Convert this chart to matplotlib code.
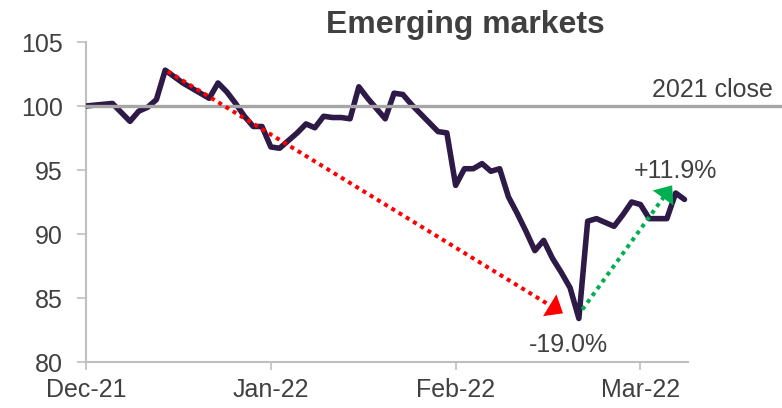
import matplotlib
matplotlib.use('Agg')
import matplotlib.pyplot as plt
import numpy as np

plt.rcParams['font.family'] = ['Liberation Sans', 'DejaVu Sans']

# trading-day index (0 = 2021 close) and index level
days = [0, 3, 5, 6, 7, 8, 9, 10, 11, 12, 13, 14, 15, 16, 17, 18, 19, 20, 21, 22,
        23, 24, 25, 26, 27, 28, 29, 30, 31, 32, 33, 34, 35, 36, 37, 38, 39, 40, 41,
        42, 43, 44, 45, 46, 47, 48, 49, 50, 51, 52, 53, 54, 55, 56, 57, 58, 59, 60,
        61, 62, 63, 64, 65, 66, 67, 68]
level = [100.0, 100.2, 98.8, 99.6, 99.9, 100.5, 102.8, 102.3, 101.8, 101.4, 101.0, 100.6,
         101.8, 101.1, 100.2, 99.2, 98.4, 98.4, 96.8, 96.7,
         97.3, 97.9, 98.6, 98.3, 99.2, 99.1, 99.1, 99.0, 101.5, 100.6, 99.8, 99.0, 101.0,
         100.9, 100.1, 99.4, 98.7, 98.0, 97.9,
         93.8, 95.1, 95.1, 95.5, 94.9, 95.1, 92.9, 91.6, 90.2, 88.7, 89.5, 88.1, 87.0,
         85.8, 83.4, 91.0, 91.2, 90.9, 90.6, 91.5, 92.5, 92.3, 91.2, 91.2, 91.2, 93.2, 92.7]

tick_pos = [0, 21, 42, 63]
tick_lab = ['Dec-21', 'Jan-22', 'Feb-22', 'Mar-22']
yticks = [80, 85, 90, 95, 100, 105]

# arrows: (start, end) in data units
fall_start, fall_end = (9.3, 102.7), (54.2, 83.8)
rise_start, rise_end = (56.4, 84.1), (66.6, 93.8)

txt = '#404040'
axis_col = '#BFBFBF'

fig = plt.figure(figsize=(7.82, 4.08), dpi=100)
ax = fig.add_axes([86/782, 1-362/408, (688-86)/782, (362-42)/408])
ax.set_xlim(0, 68.4)
ax.set_ylim(80, 105)

ax.plot(days, level, color='#2E1A47', lw=4.0, solid_joinstyle='round',
        solid_capstyle='round', zorder=3)

# 2021 close line runs out to the right edge of the figure
x_right = (782 - 86) / 602 * 68.4
ax.plot([0, x_right], [100, 100], color='#A6A6A6', lw=2.4, clip_on=False, zorder=4)
fig.text(773/782, 1-97/408, '2021 close', ha='right', va='baseline', fontsize=18, color=txt)


def dotted_arrow(start, end, col):
    # dotted shaft up to the head base, head is a solid filled triangle
    p0 = ax.transData.transform(start)
    p1 = ax.transData.transform(end)
    f = 1 - 14 / np.hypot(*(p1 - p0))
    base = (start[0] + f*(end[0]-start[0]), start[1] + f*(end[1]-start[1]))
    ax.plot([start[0], base[0]], [start[1], base[1]], color=col, lw=2.9,
            linestyle=(0, (1, 1.1)), zorder=5)
    ax.annotate('', xy=end, xytext=base, zorder=5,
                arrowprops=dict(arrowstyle='-|>,head_length=0.56,head_width=0.46',
                                mutation_scale=20, shrinkA=0, shrinkB=0, lw=0,
                                color=col))


dotted_arrow(fall_start, fall_end, '#FF0000')
dotted_arrow(rise_start, rise_end, '#00B050')

ax.text(54.8, 80.8, '-19.0%', ha='center', va='baseline', fontsize=18, color=txt)
ax.text(67.0, 94.4, '+11.9%', ha='center', va='baseline', fontsize=18, color=txt)

ax.set_xticks(tick_pos)
ax.set_xticklabels(tick_lab)
ax.set_yticks(yticks)

for s in ['top', 'right']:
    ax.spines[s].set_visible(False)
for s in ['left', 'bottom']:
    ax.spines[s].set_color(axis_col)
    ax.spines[s].set_linewidth(1.5)
ax.tick_params(axis='x', length=5.5, width=1.2, color=axis_col, labelsize=18,
               labelcolor=txt, pad=6)
ax.tick_params(axis='y', length=6.5, width=1.2, color=axis_col, labelsize=18,
               labelcolor=txt, pad=10)

fig.text(465/782, 1-33/408, 'Emerging markets', ha='center', va='baseline',
         fontsize=23, fontweight='bold', color=txt)

fig.savefig('out.png', dpi=100)
